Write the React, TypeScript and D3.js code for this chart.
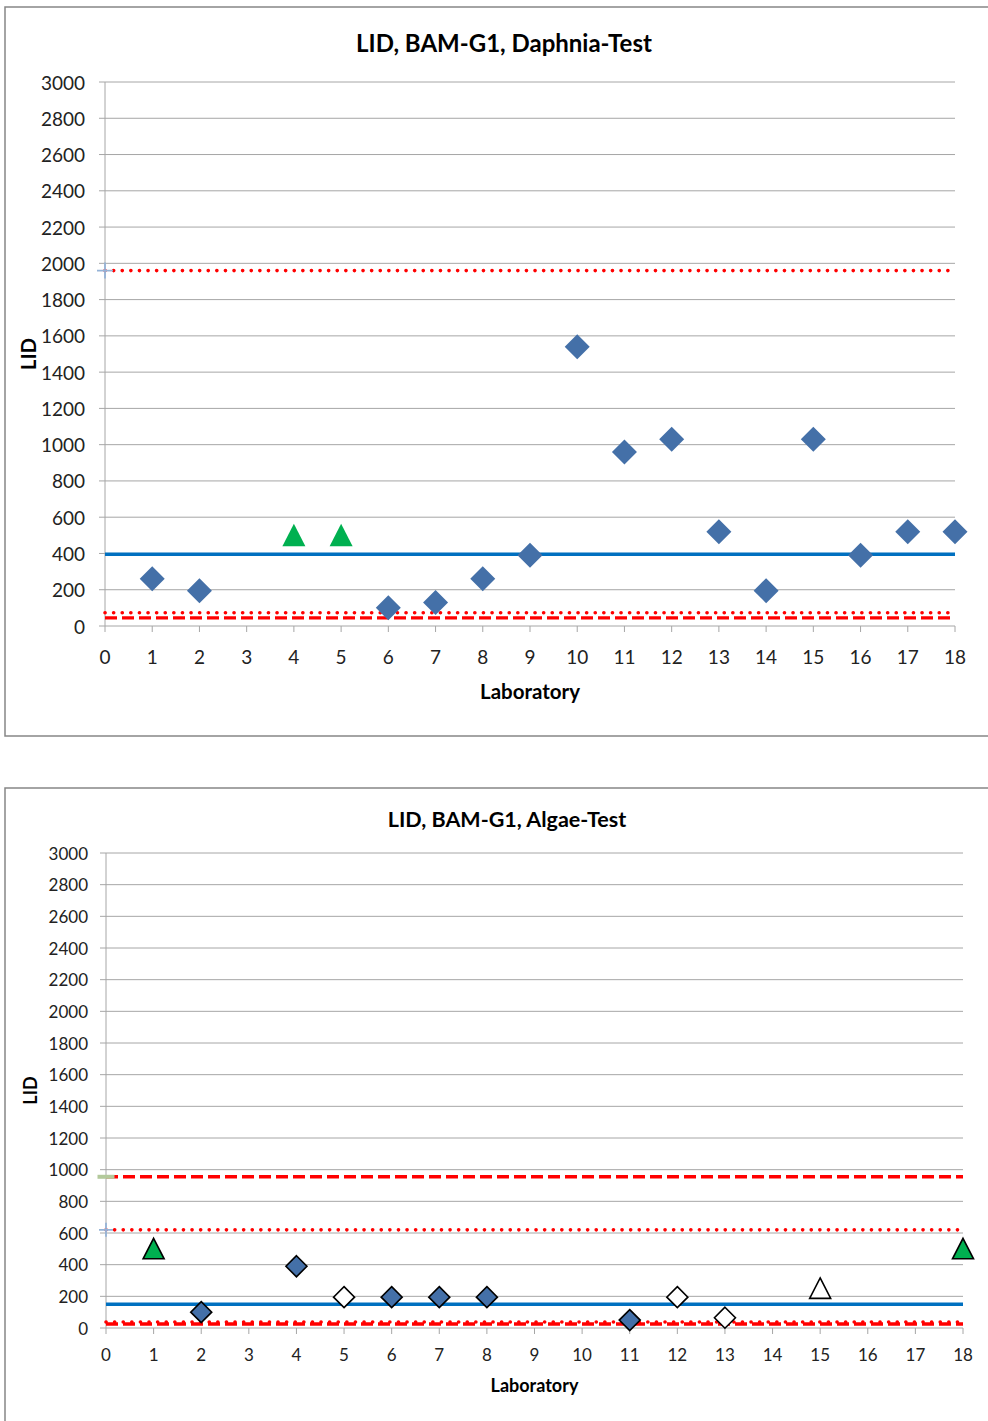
import React from "react";
import * as d3 from "d3";

// ---------- DATA ----------
const xTicks = d3.range(0, 19);
const yTicks = d3.range(0, 3001, 200);

// Daphnia test
const daphniaLabs = [1, 2, 6, 7, 8, 9, 10, 11, 12, 13, 14, 15, 16, 17, 18];
const daphniaLid = [260, 195, 100, 130, 260, 390, 1540, 960, 1030, 520, 195, 1030, 390, 520, 520];
const daphniaTriLabs = [4, 5];
const daphniaTriLid = [500, 500];
const daphniaMean = 395;
const daphniaUpperDotted = 1960;
const daphniaLowerDotted = 73;
const daphniaLowerDashed = 45;

// Algae test
const algaeFilledLabs = [2, 4, 6, 7, 8, 11];
const algaeFilledLid = [100, 390, 195, 195, 195, 50];
const algaeOpenLabs = [5, 12, 13];
const algaeOpenLid = [195, 195, 65];
const algaeTriLabs = [1, 18];
const algaeTriLid = [500, 500];
const algaeOpenTriLabs = [15];
const algaeOpenTriLid = [250];
const algaeMean = 150;
const algaeUpperDashed = 955;
const algaeUpperDotted = 620;
const algaeLowerDotted = 38;
const algaeLowerDashed = 25;

const FONT = "Lato, 'Open Sans', sans-serif";
const BLUE = "#4470a8";
const GREEN = "#00b050";
const RED = "#ff0000";
const LINEBLUE = "#0070c0";
const GRID = "#a6a6a6";

type Pt = { x: number; y: number };
const zip = (xs: number[], ys: number[]): Pt[] => xs.map((x, i) => ({ x, y: ys[i] }));

type HLine = { v: number; kind: "solid" | "dotted" | "dashed" };
type MarkerSet = {
  pts: Pt[];
  shape: "diamond" | "triangle" | "plus" | "dash";
  fill: string;
  stroke: string;
  size: number;
};

type ChartCfg = {
  frameTop: number;
  frameBottom: number;
  left: number;
  right: number;
  top: number;
  bottom: number;
  title: string;
  titleX: number;
  titleY: number;
  titleSize: number;
  tickSize: number;
  yLabelEnd: number;
  xLabelY: number;
  axisTitleY: number;
  axisTitleSize: number;
  yTitleX: number;
  lines: HLine[];
  markers: MarkerSet[];
};

function markerPath(shape: string, s: number): string {
  if (shape === "diamond") return `M0,${-s}L${s},0L0,${s}L${-s},0Z`;
  if (shape === "triangle") return `M0,${-s}L${s},${s * 0.95}L${-s},${s * 0.95}Z`;
  if (shape === "plus") return `M${-s},0L${s},0M0,${-s}L0,${s}`;
  return `M${-s},0L${s},0`;
}

function Chart({ cfg }: { cfg: ChartCfg }) {
  const x = d3.scaleLinear().domain([0, 18]).range([cfg.left, cfg.right]);
  const y = d3.scaleLinear().domain([0, 3000]).range([cfg.bottom, cfg.top]);
  const cx = (cfg.left + cfg.right) / 2;
  const cy = (cfg.top + cfg.bottom) / 2;
  return (
    <g>
      <path
        d={`M1000,${cfg.frameTop}H5V${cfg.frameBottom}H1000`}
        fill="none"
        stroke="#868686"
        strokeWidth={1.5}
      />
      <text x={cfg.titleX} y={cfg.titleY} textAnchor="middle" dominantBaseline="central"
        fontFamily={FONT} fontWeight="bold" fontSize={cfg.titleSize} fill="#000">
        {cfg.title}
      </text>
      {/* grid */}
      {yTicks.map((t) => (
        <g key={"g" + t}>
          <line x1={cfg.left - 6} x2={cfg.right} y1={y(t)} y2={y(t)} stroke={GRID} strokeWidth={1} />
          <text x={cfg.yLabelEnd} y={y(t)} textAnchor="end" dominantBaseline="central"
            fontFamily={FONT} fontSize={cfg.tickSize} fill="#222">
            {t}
          </text>
        </g>
      ))}
      <line x1={cfg.left} x2={cfg.left} y1={cfg.top} y2={cfg.bottom} stroke={GRID} strokeWidth={1} />
      {xTicks.map((t) => (
        <g key={"x" + t}>
          <line x1={x(t)} x2={x(t)} y1={cfg.bottom} y2={cfg.bottom + 6} stroke={GRID} strokeWidth={1} />
          <text x={x(t)} y={cfg.xLabelY} textAnchor="middle" dominantBaseline="central"
            fontFamily={FONT} fontSize={cfg.tickSize} fill="#222">
            {t}
          </text>
        </g>
      ))}
      <text x={cx} y={cfg.axisTitleY} textAnchor="middle" dominantBaseline="central"
        fontFamily={FONT} fontWeight="bold" fontSize={cfg.axisTitleSize} fill="#000">
        Laboratory
      </text>
      <text transform={`translate(${cfg.yTitleX},${cy}) rotate(-90)`} textAnchor="middle"
        dominantBaseline="central" fontFamily={FONT} fontWeight="bold" fontSize={cfg.axisTitleSize} fill="#000">
        LID
      </text>
      {/* horizontal reference lines */}
      {cfg.lines.map((l, i) => (
        <line key={"l" + i} x1={x(0)} x2={x(18)} y1={y(l.v)} y2={y(l.v)}
          stroke={l.kind === "solid" ? LINEBLUE : RED}
          strokeWidth={l.kind === "solid" ? 3.5 : l.kind === "dotted" ? 3.6 : 3.4}
          strokeDasharray={l.kind === "dotted" ? "0.1 8.5" : l.kind === "dashed" ? "12 5" : undefined}
          strokeLinecap={l.kind === "dotted" ? "round" : "butt"} />
      ))}
      {/* markers */}
      {cfg.markers.map((m, mi) =>
        m.pts.map((p, i) => (
          <path key={"m" + mi + "-" + i}
            transform={`translate(${x(p.x)},${y(p.y)})`}
            d={markerPath(m.shape, m.size)}
            fill={m.shape === "plus" || m.shape === "dash" ? "none" : m.fill}
            stroke={m.stroke}
            strokeWidth={m.shape === "dash" ? 4 : m.shape === "plus" ? 1.8 : m.stroke === "none" ? 0 : 1.6}
            strokeLinejoin="miter" />
        ))
      )}
    </g>
  );
}

const topCfg: ChartCfg = {
  frameTop: 7,
  frameBottom: 736,
  left: 105,
  right: 955,
  top: 82,
  bottom: 626,
  title: "LID, BAM-G1, Daphnia-Test",
  titleX: 504,
  titleY: 42,
  titleSize: 24,
  tickSize: 19,
  yLabelEnd: 85,
  xLabelY: 656,
  axisTitleY: 691,
  axisTitleSize: 20.5,
  yTitleX: 28,
  lines: [
    { v: daphniaUpperDotted, kind: "dotted" },
    { v: daphniaMean, kind: "solid" },
    { v: daphniaLowerDotted, kind: "dotted" },
    { v: daphniaLowerDashed, kind: "dashed" },
  ],
  markers: [
    { pts: [{ x: 0, y: daphniaUpperDotted }], shape: "plus", fill: "none", stroke: "#95b3d7", size: 8 },
    { pts: zip(daphniaLabs, daphniaLid), shape: "diamond", fill: BLUE, stroke: "none", size: 12.5 },
    { pts: zip(daphniaTriLabs, daphniaTriLid), shape: "triangle", fill: GREEN, stroke: "none", size: 11.5 },
  ],
};

const bottomCfg: ChartCfg = {
  frameTop: 788,
  frameBottom: 1440,
  left: 106,
  right: 963,
  top: 853,
  bottom: 1328,
  title: "LID, BAM-G1, Algae-Test",
  titleX: 507,
  titleY: 819,
  titleSize: 21.5,
  tickSize: 17,
  yLabelEnd: 88,
  xLabelY: 1354,
  axisTitleY: 1385,
  axisTitleSize: 18,
  yTitleX: 30,
  lines: [
    { v: algaeUpperDashed, kind: "dashed" },
    { v: algaeUpperDotted, kind: "dotted" },
    { v: algaeMean, kind: "solid" },
    { v: algaeLowerDotted, kind: "dotted" },
    { v: algaeLowerDashed, kind: "dashed" },
  ],
  markers: [
    { pts: [{ x: 0, y: algaeUpperDashed }], shape: "dash", fill: "none", stroke: "#b3c99b", size: 8.5 },
    { pts: [{ x: 0, y: algaeUpperDotted }], shape: "plus", fill: "none", stroke: "#95b3d7", size: 7 },
    { pts: zip(algaeFilledLabs, algaeFilledLid), shape: "diamond", fill: BLUE, stroke: "#000", size: 10.5 },
    { pts: zip(algaeOpenLabs, algaeOpenLid), shape: "diamond", fill: "#fff", stroke: "#000", size: 10.5 },
    { pts: zip(algaeTriLabs, algaeTriLid), shape: "triangle", fill: GREEN, stroke: "#000", size: 10.5 },
    { pts: zip(algaeOpenTriLabs, algaeOpenTriLid), shape: "triangle", fill: "#fff", stroke: "#000", size: 10.5 },
  ],
};

export default function App() {
  return (
    <svg width={988} height={1421} style={{ position: "absolute", left: 0, top: 0, background: "#fff" }}>
      <rect width={988} height={1421} fill="#fff" />
      <Chart cfg={topCfg} />
      <Chart cfg={bottomCfg} />
    </svg>
  );
}
